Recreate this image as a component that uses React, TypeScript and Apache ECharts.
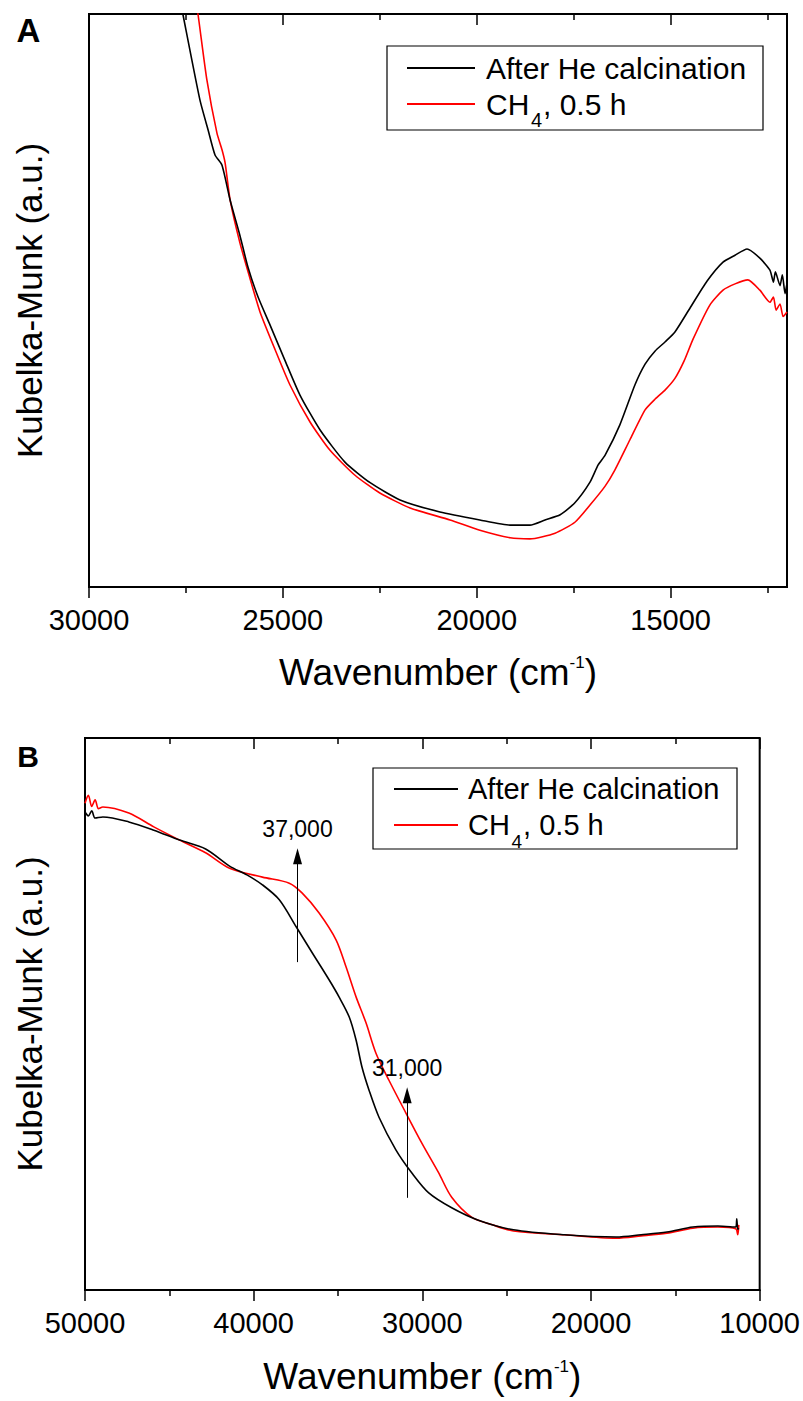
import React, { useEffect, useRef } from "react";
import * as echarts from "echarts";

const FONT = '"Liberation Sans", Arial, Helvetica, sans-serif';

const seriesNames = ["After He calcination", "CH4, 0.5 h"];
const seriesColors = ["#000000", "#ff0000"];
const yTitle = "Kubelka-Munk (a.u.)";

// Panel A: wavenumber (cm-1) vs Kubelka-Munk (a.u., 0..100 scale)
const aMajorTicks = [15000, 20000, 25000, 30000];
const aMinorTicks = [12500, 17500, 22500, 27500];
const aHe: [number, number][] = [
  [27700, 104.2], [27580, 100], [27140, 85.0], [26930, 79.8], [26750, 75.4], [26570, 73.6],
  [26360, 67.5], [26110, 61.4], [25900, 55.8], [25640, 50.6], [25330, 45.7], [24950, 39.6],
  [24560, 33.5], [24040, 27.4], [23400, 21.8], [22750, 18.2], [21980, 15.2], [20950, 13.1],
  [19920, 11.7], [19140, 10.8], [18630, 10.8], [18240, 11.7], [17850, 12.6], [17470, 14.7],
  [17080, 18.3], [16870, 21.3], [16690, 23.0], [16310, 28.3], [15920, 35.3], [15660, 38.9],
  [15400, 41.2], [15140, 42.8], [14890, 44.5], [14500, 48.7], [14060, 53.4], [13650, 56.7],
  [13340, 57.9], [13030, 59.0], [12700, 57.4], [12440, 55.3], [12350, 53.2], [12300, 55.0],
  [12180, 52.6], [12120, 54.5], [12050, 51.2], [12000, 53.0],
];
const aCH4: [number, number][] = [
  [27290, 104.2], [27190, 100], [26960, 88.5], [26700, 79.2], [26570, 76.3], [26490, 74.0],
  [26360, 67.5], [26110, 60.1], [25850, 53.9], [25590, 48.0], [25200, 41.4], [24820, 35.3],
  [24300, 28.8], [23790, 23.9], [23140, 19.5], [22500, 16.4], [21720, 13.8], [20690, 11.7],
  [19920, 9.9], [19140, 8.6], [18630, 8.4], [17980, 9.4], [17470, 11.3], [17080, 14.3],
  [16690, 17.6], [16440, 20.4], [16050, 25.7], [15660, 30.9], [15400, 32.8], [15140, 34.4],
  [14890, 36.4], [14650, 39.5], [14420, 43.3], [13990, 49.2], [13650, 51.8], [13340, 52.9],
  [13010, 53.6], [12700, 51.8], [12440, 49.7], [12350, 50.6], [12280, 48.3], [12180, 49.4],
  [12100, 47.2], [12000, 48.0],
];

// Panel B
const bMajorTicks = [10000, 20000, 30000, 40000, 50000];
const bMinorTicks = [15000, 25000, 35000, 45000];
const bHe: [number, number][] = [
  [50000, 86.6], [49800, 85.9], [49600, 86.8], [49400, 85.5], [48940, 85.7], [47400, 84.8],
  [45920, 83.3], [44390, 81.5], [42850, 79.9], [41430, 76.8], [40400, 75.2], [39480, 73.4],
  [38480, 70.7], [37480, 65.8], [36530, 61.1], [35530, 56.2], [34940, 53.1], [34340, 49.5],
  [33930, 45.3], [33580, 40.4], [33160, 36.2], [32570, 31.3], [31570, 25.4], [30620, 21.2],
  [29620, 17.6], [28260, 14.9], [26720, 12.7], [24600, 10.9], [21580, 10.0], [18510, 9.6],
  [17030, 10.0], [15500, 10.5], [13960, 11.4], [12480, 11.6], [11420, 11.4], [11360, 12.9],
  [11300, 11.0], [11240, 11.2],
];
const bCH4: [number, number][] = [
  [50000, 88.2], [49800, 89.6], [49600, 87.6], [49400, 88.8], [49200, 87.2], [48940, 87.5],
  [47400, 86.4], [45920, 83.9], [44390, 81.5], [42850, 79.2], [41430, 76.4], [39480, 74.8],
  [37890, 73.7], [37120, 71.9], [36120, 68.3], [35110, 63.4], [34520, 58.5], [33930, 53.1],
  [33340, 48.4], [32750, 42.9], [31980, 38.0], [30980, 32.1], [30030, 26.6], [29030, 21.2],
  [28260, 16.8], [27080, 13.2], [25840, 11.8], [24600, 10.7], [21580, 10.0], [18510, 9.4],
  [17030, 9.8], [15500, 10.3], [13960, 11.2], [12480, 11.4], [11420, 11.1], [11300, 10.0],
  [11240, 11.8],
];

// Annotation arrows in panel B
const arrowLabels = ["37,000", "31,000"];
const arrowX = [37400, 30900];
const arrowFrom = [59.4, 16.7];
const arrowTo = [78.6, 35.3];

function xAxesFor(
  gridIndex: number,
  min: number,
  max: number,
  major: number[],
  minor: number[],
  nameGap: number
) {
  const base = {
    gridIndex,
    type: "value",
    min,
    max,
    inverse: true,
    splitLine: { show: false },
  };
  return [
    {
      ...base,
      position: "bottom",
      axisLine: { show: true, onZero: false, lineStyle: { color: "#000", width: 2 } },
      axisTick: { show: true, inside: false, length: 11, customValues: major, lineStyle: { color: "#000", width: 1.5 } },
      axisLabel: {
        show: true, customValues: major, margin: 18, fontSize: 29, fontFamily: FONT, color: "#000",
        formatter: (v: number) => String(v),
      },
      name: "{n|Wavenumber (cm}{s|-1}{n|)}",
      nameLocation: "middle",
      nameGap,
      nameTextStyle: {
        color: "#000",
        fontFamily: FONT,
        rich: {
          n: { fontSize: 37, fontFamily: FONT, color: "#000", lineHeight: 37 },
          s: { fontSize: 17, fontFamily: FONT, color: "#000", lineHeight: 28, verticalAlign: "top" },
        },
      },
    },
    {
      ...base,
      position: "bottom",
      axisLine: { show: false, onZero: false },
      axisTick: { show: true, inside: false, length: 6, customValues: minor, lineStyle: { color: "#000", width: 1.5 } },
      axisLabel: { show: false },
    },
    {
      ...base,
      position: "top",
      axisLine: { show: false, onZero: false },
      axisTick: { show: true, inside: true, length: 11, customValues: major, lineStyle: { color: "#000", width: 1.5 } },
      axisLabel: { show: false },
    },
    {
      ...base,
      position: "top",
      axisLine: { show: false, onZero: false },
      axisTick: { show: true, inside: true, length: 6, customValues: minor, lineStyle: { color: "#000", width: 1.5 } },
      axisLabel: { show: false },
    },
  ];
}

function yAxisFor(gridIndex: number, nameGap: number) {
  return {
    gridIndex,
    type: "value",
    min: 0,
    max: 100,
    axisLine: { show: false },
    axisTick: { show: false },
    axisLabel: { show: false },
    splitLine: { show: false },
    name: yTitle,
    nameLocation: "middle",
    nameRotate: 90,
    nameGap,
    nameTextStyle: { fontSize: 35, fontFamily: FONT, color: "#000" },
  };
}

function legendGraphics(
  bx: number, by: number, bw: number, bh: number,
  lx1: number, lx2: number, tx: number, row1: number, row2: number, fs: number
) {
  const txt = (text: string, x: number, y: number, size: number) => ({
    type: "text",
    x,
    y,
    style: {
      text,
      fontSize: size,
      fontFamily: FONT,
      fill: "#000",
      align: "left",
      verticalAlign: "middle",
      textAlign: "left",
      textVerticalAlign: "middle",
    },
  });
  return [
    { type: "rect", shape: { x: bx, y: by, width: bw, height: bh }, style: { fill: "#fff", stroke: "#000", lineWidth: 1.2 }, z: 10 },
    { type: "line", shape: { x1: lx1, y1: row1, x2: lx2, y2: row1 }, style: { stroke: seriesColors[0], lineWidth: 2 }, z: 11 },
    { type: "line", shape: { x1: lx1, y1: row2, x2: lx2, y2: row2 }, style: { stroke: seriesColors[1], lineWidth: 2 }, z: 11 },
    { ...txt(seriesNames[0], tx, row1, fs), z: 11 },
    { ...txt("CH", tx, row2, fs), z: 11 },
    { ...txt("4", tx + fs * 1.5, row2 + 16, Math.round(fs * 0.67)), z: 11 },
    { ...txt(", 0.5 h", tx + fs * 1.5 + fs * 0.4, row2, fs), z: 11 },
  ];
}

function panelLetter(letter: string, x: number, y: number, size: number) {
  return {
    type: "text",
    x,
    y,
    style: {
      text: letter,
      fontSize: size,
      fontWeight: "bold",
      fontFamily: FONT,
      fill: "#000",
      align: "center",
      verticalAlign: "middle",
      textAlign: "center",
      textVerticalAlign: "middle",
    },
  };
}

export default function App() {
  const ref = useRef<HTMLDivElement>(null);
  useEffect(() => {
    if (!ref.current) return;
    const chart = echarts.init(ref.current, null, { renderer: "svg" });
    const lineSeries = (name: string, color: string, xi: number, yi: number, data: [number, number][], z: number, smooth: number) => ({
      type: "line", name, xAxisIndex: xi, yAxisIndex: yi, data, smooth,
      showSymbol: false, symbol: "none", lineStyle: { color, width: 1.6 }, itemStyle: { color }, z,
    });
    const option: any = {
      animation: false,
      backgroundColor: "#fff",
      grid: [
        { left: 89, top: 14, width: 698, height: 573, show: true, borderColor: "#000", borderWidth: 2, backgroundColor: "transparent" },
        { left: 85, top: 738, width: 677, height: 552, show: true, borderColor: "#000", borderWidth: 2, backgroundColor: "transparent" },
      ],
      xAxis: [
        ...xAxesFor(0, 12000, 30000, aMajorTicks, aMinorTicks, 67),
        ...xAxesFor(1, 10000, 50000, bMajorTicks, bMinorTicks, 68),
      ],
      yAxis: [yAxisFor(0, 42), yAxisFor(1, 38)],
      series: [
        lineSeries(seriesNames[0], seriesColors[0], 0, 0, aHe, 3, 0.2),
        lineSeries(seriesNames[1], seriesColors[1], 0, 0, aCH4, 2, 0.2),
        lineSeries(seriesNames[0], seriesColors[0], 4, 1, bHe, 3, 0.3),
        {
          ...lineSeries(seriesNames[1], seriesColors[1], 4, 1, bCH4, 2, 0.3),
          markLine: {
            silent: true,
            animation: false,
            symbol: ["none", "triangle"],
            symbolSize: [9, 16],
            lineStyle: { color: "#000", width: 1, type: "solid" },
            itemStyle: { color: "#000" },
            label: { show: true, position: "end", formatter: "{b}", fontSize: 23, fontFamily: FONT, color: "#000", distance: 16 },
            emphasis: { disabled: true },
            data: arrowX.map((x, i) => [
              { name: arrowLabels[i], coord: [x, arrowFrom[i]] },
              { coord: [x, arrowTo[i]] },
            ]),
          },
        },
      ],
      graphic: [
        ...legendGraphics(387, 46, 376, 84, 407, 475, 486, 68, 104, 30),
        ...legendGraphics(373, 768, 364, 81, 394, 458, 468, 789, 825, 29),
        panelLetter("A", 28.5, 30, 33),
        panelLetter("B", 28, 756, 30),
      ],
    };
    chart.setOption(option);
    return () => chart.dispose();
  }, []);
  return <div ref={ref} style={{ position: "absolute", left: 0, top: 0, width: 803, height: 1401 }} />;
}
